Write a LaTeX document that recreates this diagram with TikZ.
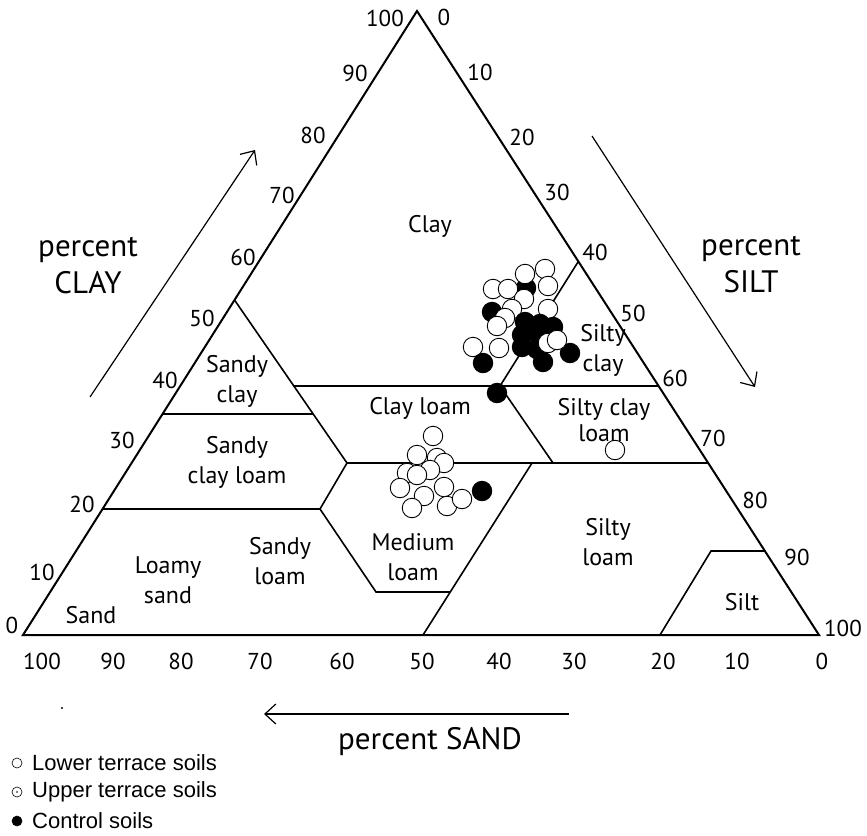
\documentclass[tikz,border=0pt]{standalone}
\usepackage{fontspec}
\setmainfont{PT Sans}
\newfontfamily\legfont{Liberation Sans}
\usetikzlibrary{arrows.meta}
\begin{document}
\begin{tikzpicture}[x=1pt,y=-1pt,
  tri/.style={line width=2pt,line join=miter},
  bnd/.style={line width=1.6pt},
  lbl/.style={font=\fontsize{24}{30}\selectfont,align=center,inner sep=0pt},
  lbltight/.style={font=\fontsize{24}{26}\selectfont,align=center,inner sep=0pt},
  tick/.style={font=\fontsize{23}{26}\selectfont,inner sep=0pt},
  axlbl/.style={font=\fontsize{31}{37}\selectfont,align=center,inner sep=0pt},
  opn/.style={circle,draw,fill=white,line width=0.9pt,minimum size=19.5pt,inner sep=0pt},
  cls/.style={circle,draw,fill=black,line width=0.9pt,minimum size=19.5pt,inner sep=0pt},
  axarrow/.style={line width=1.2pt,-{Straight Barb[length=11pt,width=20pt,line width=1.2pt]}},
  legtxt/.style={font=\legfont\fontsize{22}{24}\selectfont,anchor=west,inner sep=0pt},
  legsym/.style={circle,draw,line width=0.6pt,minimum size=10pt,inner sep=0pt}
]
\useasboundingbox (0,0) rectangle (867,835);
% triangle corners
\coordinate (A) at (23,635);
\coordinate (B) at (819,635);
\coordinate (C) at (417,11);
% class boundaries
\coordinate (scT) at (234.5,300);
\coordinate (scL) at (162.5,414);
\coordinate (scR) at (313,414);
\coordinate (clL) at (294,386);
\coordinate (clR) at (658.6,386);
\coordinate (hL) at (347,463);
\coordinate (hR) at (708,463);
\coordinate (tL) at (102.6,509);
\coordinate (tR) at (320,509);
\coordinate (lmA) at (376,592);
\coordinate (lmB) at (450,592);
\coordinate (s50T) at (532,463);
\coordinate (s50B) at (423,635);
\coordinate (sicT) at (578,262);
\coordinate (sicB) at (500,386);
\coordinate (sclB) at (553,463);
\coordinate (siB) at (660,635);
\coordinate (siT) at (711,551);
\coordinate (siR) at (765,551);

\draw[bnd] (scT) -- (hL);
\draw[bnd] (scL) -- (scR);
\draw[bnd] (clL) -- (clR);
\draw[bnd] (hL) -- (hR);
\draw[bnd] (tL) -- (tR);
\draw[bnd] (hL) -- (tR) -- (lmA) -- (lmB);
\draw[bnd] (s50T) -- (s50B);
\draw[bnd] (sicT) -- (sicB) -- (sclB);
\draw[bnd] (siB) -- (siT) -- (siR);
\draw[tri] (A) -- (B) -- (C) -- cycle;

% region labels
\node[lbl] (lClay) at (430,226) {Clay};
\node[lbl] (lSC) at (237,381) {Sandy\\clay};
\node[lbl] (lSCL) at (237,462) {Sandy\\clay loam};
\node[lbl] (lLS) at (168,580) {Loamy\\sand};
\node[lbl] (lSand) at (91,615) {Sand};
\node[lbl] (lSL) at (280,561) {Sandy\\loam};
\node[lbl] (lML) at (413,557) {Medium\\loam};
\node[lbl] (lCL) at (420,408) {Clay loam};
\node[lbl] (lSiC) at (603,350) {Silty\\clay};
\node[lbltight] (lSiCL) at (604,420) {Silty clay\\loam};
\node[lbl] (lSiL) at (608,542) {Silty\\loam};
\node[lbl] (lSilt) at (742,602) {Silt};

% left ticks (clay)
\node[tick] (c100) at (385,18) {100};
\node[tick] (c90) at (355,73) {90};
\node[tick] (c80) at (313,135) {80};
\node[tick] (c70) at (282,195) {70};
\node[tick] (c60) at (243,257) {60};
\node[tick] (c50) at (202,318) {50};
\node[tick] (c40) at (165,380) {40};
\node[tick] (c30) at (122,440) {30};
\node[tick] (c20) at (82,504) {20};
\node[tick] (c10) at (42,572) {10};
\node[tick] (c0) at (12,625) {0};
% right ticks (silt)
\node[tick] (s0) at (444,17) {0};
\node[tick] (s10) at (480,72) {10};
\node[tick] (s20) at (522,137) {20};
\node[tick] (s30) at (557,192) {30};
\node[tick] (s40) at (595,252) {40};
\node[tick] (s50) at (633,313) {50};
\node[tick] (s60) at (675,378) {60};
\node[tick] (s70) at (713,438) {70};
\node[tick] (s80) at (755,500) {80};
\node[tick] (s90) at (797,557) {90};
\node[tick] (s100) at (843,628) {100};
% bottom ticks (sand)
\node[tick] (b100) at (42,661) {100};
\node[tick] (b90) at (113,661) {90};
\node[tick] (b80) at (181,661) {80};
\node[tick] (b70) at (260,661) {70};
\node[tick] (b60) at (342,661) {60};
\node[tick] (b50) at (422,661) {50};
\node[tick] (b40) at (499,661) {40};
\node[tick] (b30) at (574,661) {30};
\node[tick] (b20) at (663,661) {20};
\node[tick] (b10) at (737,661) {10};
\node[tick] (b0) at (822,661) {0};

% axis titles and arrows
\node[axlbl] (tClay) at (88,266) {percent\\CLAY};
\node[axlbl] (tSilt) at (751,265) {percent\\SILT};
\node[axlbl] (tSand) at (430,742) {percent SAND};
\coordinate (ca1) at (90,397);
\coordinate (ca2) at (255,150);
\coordinate (sa1) at (592,136);
\coordinate (sa2) at (755,387);
\coordinate (na1) at (569,714);
\coordinate (na2) at (264,714);
\draw[axarrow] (ca1) -- (ca2);
\draw[axarrow] (sa1) -- (sa2);
\draw[axarrow] (na1) -- (na2);
\fill (62,708) circle (1.2);

% data points: upper cluster
\node[cls] (u1) at (526,288) {};
\node[opn] (u2) at (545,269) {};
\node[opn] (u3) at (525,274) {};
\node[opn] (u4) at (493,289) {};
\node[opn] (u5) at (508,289) {};
\node[opn] (u6) at (548,286) {};
\node[opn] (u7) at (524,299) {};
\node[cls] (u8) at (492,312) {};
\node[opn] (u9) at (512,309) {};
\node[opn] (u10) at (548,309) {};
\node[opn] (u11) at (505,318) {};
\node[opn] (u12) at (497,326) {};
\node[opn] (u13) at (473,347) {};
\node[opn] (u14) at (499,348) {};
\node[cls] (u15) at (525,322) {};
\node[cls] (u16) at (540,324) {};
\node[cls] (u17) at (553,327) {};
\node[cls] (u18) at (522,335) {};
\node[cls] (u19) at (537,333) {};
\node[cls] (u20) at (522,347) {};
\node[cls] (u21) at (537,349) {};
\node[cls] (u22) at (543,362) {};
\node[cls] (u23) at (570,353) {};
\node[cls] (u24) at (483,363) {};
\node[opn] (u25) at (548,343) {};
\node[opn] (u26) at (557,340) {};
\node[cls] (u27) at (497,393) {};
% silty clay loam point
\node[opn] (m1) at (615,450) {};
% lower cluster
\node[opn] (l1) at (433,436) {};
\node[opn] (l2) at (437,458) {};
\node[opn] (l3) at (417,455) {};
\node[opn] (l4) at (444,463) {};
\node[opn] (l5) at (430,470) {};
\node[opn] (l6) at (407,473) {};
\node[opn] (l7) at (417,475) {};
\node[opn] (l8) at (400,488) {};
\node[opn] (l9) at (444,487) {};
\node[opn] (l10) at (424,496) {};
\node[opn] (l11) at (412,508) {};
\node[opn] (l12) at (447,506) {};
\node[opn] (l13) at (462,499) {};
\node[cls] (l14) at (482,491) {};

% legend
\node[legsym] (k1) at (17,763) {};
\node[legtxt] (t1) at (32,763) {Lower terrace soils};
\node[legsym] (k2) at (17,792) {};
\fill (k2.center) circle (0.8);
\node[legtxt] (t2) at (32,792) {Upper terrace soils};
\node[legsym,fill=black] (k3) at (17,821) {};
\node[legtxt] (t3) at (32,821) {Control soils};
\end{tikzpicture}
\end{document}
